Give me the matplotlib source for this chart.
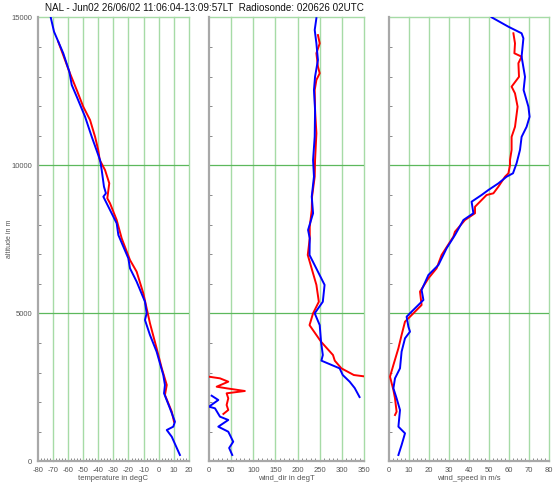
import numpy as np
import matplotlib
matplotlib.use("Agg")
import matplotlib.pyplot as plt
from matplotlib.ticker import MultipleLocator

plt.rcParams["font.family"] = ["Liberation Sans", "DejaVu Sans"]
plt.rcParams["axes.unicode_minus"] = False

# --- temperature (degC) vs altitude (m) ---
temp_blue_alt = [15000, 14513, 13784, 13162, 12713, 12318, 11642, 10966, 10179, 9841,
                 9277, 9054, 8940, 8601, 8040, 7645, 6858, 6520, 6068, 5392, 5000,
                 4774, 4267, 3703, 2916, 2578, 2297, 1790, 1338, 1170, 1057, 830, 213]
temp_blue = [-71.4, -69.2, -63.1, -59.1, -57.5, -54.2, -48.7, -44.3, -38.8, -37.7,
             -36.2, -34.9, -36.6, -33.3, -27.8, -26.7, -20.1, -19.0, -14.6, -9.1, -8.0,
             -9.1, -5.8, -1.4, 3.0, 4.1, 3.5, 7.4, 10.7, 9.6, 5.3, 8.6, 14.0]
temp_red_alt = [14175, 13162, 12544, 11980, 11530, 10966, 10517, 10179, 9841, 9392,
                8885, 8716, 8152, 7533, 6800, 6406, 5676, 5169, 4662, 3818, 3142,
                2578, 2240, 1676, 1338]
temp_red = [-66.4, -59.1, -54.2, -49.9, -45.4, -42.1, -40.0, -39.0, -35.5, -32.7,
            -34.0, -32.2, -27.8, -24.5, -19.0, -14.6, -10.2, -8.0, -5.8, -1.4, 2.0,
            5.3, 4.1, 8.6, 10.1]

# --- wind direction (degT) vs altitude (m) ---
dir_blue_alt = [14970, 14572, 14120, 13560, 12995, 12544, 11868, 10966, 10180, 9617,
                8940, 8378, 7815, 7534, 6970, 5960, 5390, 5000, 4600, 4040, 3590,
                3400, 3140, 2915, 2690, 2475, 2170,
                2216, 2071, 1846, 1790, 1508, 1396, 1170, 1000, 662, 450, 213]
dir_blue = [242.5, 238.7, 242.5, 246, 239.5, 237, 239.5, 238.7, 235, 237,
            232, 235, 223.7, 227.5, 227, 261, 257, 238.7, 250, 253, 257,
            253.8, 295, 302, 317.6, 329, 340,
            6, 21, 0, 13.5, 24.8, 43.5, 21, 43.5, 54.7, 45.5, 52.5]
dir_red_alt = [14400, 14120, 13785, 13333, 13108, 12883, 12544, 11868, 11080, 10180,
               9617, 8940, 8490, 7926, 7534, 6970, 5960, 5390, 5000, 4600, 4040,
               3590, 3400, 3140, 2915, 2870,
               2858, 2803, 2690, 2520, 2466, 2375, 2297, 2128, 1902, 1733, 1600]
dir_red = [246, 250, 242.5, 246, 250, 242.5, 238.7, 239.5, 242.5, 239.5,
           238.7, 232.7, 232, 227.5, 227.5, 223, 242.5, 248, 235, 227, 253,
           280, 284, 299, 327, 350,
           0, 24.8, 43.5, 17.3, 39.8, 81, 39.8, 43.5, 39.8, 43.5, 32.5]

# --- wind speed (m/s) vs altitude (m) ---
spd_blue_alt = [15000, 14682, 14460, 14290, 13670, 12990, 12544, 11980, 11640, 11300,
                10960, 10520, 10070, 9730, 9615, 9390, 9166, 8997, 8770, 8380, 8152,
                7645, 7196, 6632, 6294, 5788, 5450, 5055, 4885, 4548, 4380, 4155,
                3705, 3142, 2804, 2466, 2128, 1733, 1170, 946, 551, 213]
spd_blue = [51.3, 59.7, 66.3, 67.2, 66.3, 68, 67.3, 69.7, 70.3, 68.8,
            66.3, 65.5, 63.8, 62, 58.8, 54.7, 49.7, 46.3, 41.3, 42.2, 37.2,
            33, 28.8, 24.7, 19.7, 16.3, 17.2, 11.3, 8.8, 9.7, 10.5, 8,
            6.3, 5.5, 3, 2.2, 3.8, 5.5, 4.7, 8, 6.3, 4.7]
spd_red_alt = [14460, 14120, 13785, 13670, 13450, 12990, 12657, 12430, 11980, 11300,
               10960, 10520, 10180, 10010, 9730, 9615, 9279, 9054, 8997, 8600, 8380,
               8152, 7757, 7590, 6970, 6520, 6182, 5732, 5281, 5000, 4717, 4267,
               3818, 3254, 2858, 2409, 2128, 1676, 1564]
spd_red = [62.2, 63, 62.7, 66.3, 64.7, 65, 61.3, 63, 64.3, 63,
           61.3, 61.3, 60.5, 60.5, 59.7, 58, 54.7, 52.2, 48.8, 43, 43,
           38, 33, 32.2, 26.3, 23.8, 19.7, 15.5, 16.3, 12.2, 8, 6.3,
           4.7, 2.2, 0.5, 2.2, 3, 3.8, 3]

title = "NAL - Jun02 26/06/02 11:06:04-13:09:57LT  Radiosonde: 020626 02UTC"

W, H = 554, 490
fig = plt.figure(figsize=(W / 100, H / 100), dpi=100)

bottom = (H - 461.3) / H
height = 444.0 / H
panels = [
    dict(left=37.7, right=189, xlim=(-80, 20), major=10, minor=2,
         xlabel="temperature in degC"),
    dict(left=209, right=364, xlim=(0, 350), major=50, minor=10,
         xlabel="wind_dir in degT"),
    dict(left=389, right=549, xlim=(0, 80), major=10, minor=2,
         xlabel="wind_speed in m/s"),
]

series = [
    ((temp_red, temp_red_alt), (temp_blue, temp_blue_alt)),
    ((dir_red, dir_red_alt), (dir_blue, dir_blue_alt)),
    ((spd_red, spd_red_alt), (spd_blue, spd_blue_alt)),
]

vgrid = "#a6dba6"
hgrid = "#5cb85c"
spine_c = "#a8a8a8"
tick_c = "#555555"


def break_wrap(x, y):
    # split the direction trace where it wraps round 360 -> 0
    x = np.asarray(x, float)
    y = np.asarray(y, float)
    jumps = np.where(np.abs(np.diff(x)) > 180)[0] + 1
    return np.insert(x, jumps, np.nan), np.insert(y, jumps, np.nan)


axes = []
for i, p in enumerate(panels):
    ax = fig.add_axes([p["left"] / W, bottom, (p["right"] - p["left"]) / W, height])
    axes.append(ax)
    ax.set_xlim(*p["xlim"])
    ax.set_ylim(0, 15000)

    for xv in np.arange(p["xlim"][0] + p["major"], p["xlim"][1] + 0.1, p["major"]):
        ax.axvline(xv, color=vgrid, lw=1.0, zorder=1, clip_on=False)
    for yv in (5000, 10000):
        ax.axhline(yv, color=hgrid, lw=0.9, zorder=1)
    ax.axhline(15000, color=vgrid, lw=1.0, zorder=1, clip_on=False)

    for (xs, ys), col in zip(series[i], ("red", "blue")):
        if i == 1:
            xs, ys = break_wrap(xs, ys)
        ax.plot(xs, ys, color=col, lw=1.4, zorder=3)

    for s in ("top", "right"):
        ax.spines[s].set_visible(False)
    for s in ("left", "bottom"):
        ax.spines[s].set_color(spine_c)
        ax.spines[s].set_linewidth(1.6)

    ax.xaxis.set_major_locator(MultipleLocator(p["major"]))
    ax.xaxis.set_minor_locator(MultipleLocator(p["minor"]))
    ax.yaxis.set_major_locator(MultipleLocator(5000))
    ax.yaxis.set_minor_locator(MultipleLocator(1000))
    ax.tick_params(axis="both", which="both", direction="in", color="#777777",
                   labelsize=5.5, labelcolor=tick_c, width=0.6)
    ax.tick_params(axis="both", which="major", length=0, pad=4)
    ax.tick_params(axis="both", which="minor", length=2.5)
    ax.set_xlabel(p["xlabel"], fontsize=5.5, color=tick_c, labelpad=1)
    if i == 0:
        ax.set_ylabel("altitude in m", fontsize=5, color=tick_c)
        ax.yaxis.set_label_coords((13 - p["left"]) / (p["right"] - p["left"]), 0.5)
    else:
        ax.set_yticklabels([])

fig.text(45 / W, 1 - 8 / H, title, fontsize=7.1, ha="left", va="center", color="#111111")

fig.savefig("out.png", dpi=100)
